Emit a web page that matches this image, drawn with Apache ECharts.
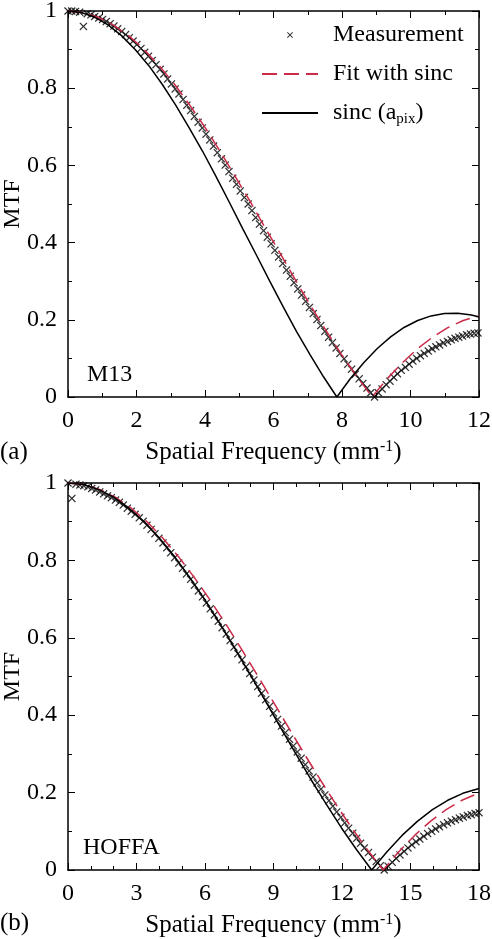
<!DOCTYPE html>
<html><head><meta charset="utf-8">
<script src="https://cdn.jsdelivr.net/npm/echarts@6/dist/echarts.min.js"></script>
<style>html,body{margin:0;padding:0;background:#fff}#c{width:492px;height:939px}</style>
</head><body><div id="c"></div>
<script>
// ---------- Panel (a) M13 ----------
const topMeasX = [0,0.11,0.22,0.34,0.45,0.56,0.67,0.78,0.90,1.01,1.12,1.23,1.34,1.45,1.57,1.68,1.79,1.90,2.01,2.13,2.24,2.35,2.46,2.57,2.69,2.80,2.91,3.02,3.13,3.24,3.36,3.47,3.58,3.69,3.80,3.92,4.03,4.14,4.25,4.36,4.48,4.59,4.70,4.81,4.92,5.03,5.15,5.26,5.37,5.48,5.59,5.71,5.82,5.93,6.04,6.15,6.27,6.38,6.49,6.60,6.71,6.82,6.94,7.05,7.16,7.27,7.38,7.50,7.61,7.72,7.83,7.94,8.06,8.17,8.28,8.39,8.50,8.61,8.73,8.84,8.95,9.06,9.17,9.29,9.40,9.51,9.62,9.73,9.85,9.96,10.07,10.18,10.29,10.40,10.52,10.63,10.74,10.85,10.96,11.08,11.19,11.30,11.41,11.52,11.64,11.75,11.86,11.97];
const topMeasY = [1.000,1.000,0.999,0.997,0.960,0.993,0.990,0.986,0.982,0.978,
0.973,0.967,0.961,0.954,0.947,0.939,0.931,0.922,0.913,0.903,
0.893,0.883,0.872,0.861,0.849,0.837,0.824,0.811,0.798,0.785,
0.771,0.756,0.742,0.727,0.712,0.697,0.681,0.666,0.650,0.633,
0.617,0.601,0.584,0.567,0.551,0.534,0.517,0.500,0.483,0.465,
0.448,0.431,0.414,0.397,0.380,0.363,0.346,0.329,0.313,0.296,
0.280,0.264,0.248,0.232,0.216,0.201,0.185,0.170,0.155,0.141,
0.127,0.113,0.099,0.085,0.072,0.059,0.047,0.035,0.023,0.011,
0.000,0.011,0.021,0.032,0.041,0.051,0.060,0.069,0.077,0.085,
0.093,0.100,0.107,0.113,0.119,0.125,0.130,0.135,0.140,0.144,
0.148,0.152,0.155,0.158,0.161,0.163,0.165,0.166];
const topFitX = [0,0.44,0.89,1.33,1.78,2.22,2.66,3.11,3.55,4.00,4.44,4.88,5.33,5.77,6.22,6.66,7.10,7.55,7.99,8.44,8.88,9.32,9.77,10.21,10.66,11.10,11.54,12];
const topFitY = [1,0.9959,0.9836,0.9634,0.9355,0.9003,0.8584,0.8103,0.7568,0.6987,0.6366,0.5716,0.5046,0.4363,0.3679,0.3001,0.2339,0.1700,0.1093,0.0524,0,0.0474,0.0894,0.1257,0.1559,0.1801,0.1981,0.2102];
const topSincX = [0,0.39,0.79,1.18,1.57,1.96,2.36,2.75,3.14,3.53,3.93,4.32,4.71,5.10,5.50,5.89,6.28,6.67,7.07,7.46,7.85,8.24,8.64,9.03,9.42,9.81,10.21,10.60,10.99,11.38,11.78,12];
const topSincY = [1,0.9959,0.9836,0.9634,0.9355,0.9003,0.8584,0.8103,0.7568,0.6987,0.6366,0.5716,0.5046,0.4363,0.3679,0.3001,0.2339,0.1700,0.1093,0.0524,0,0.0474,0.0894,0.1257,0.1559,0.1801,0.1981,0.2101,0.2162,0.2168,0.2122,0.2071];

// ---------- Panel (b) HOFFA ----------
const botMeasX = [0,0.17,0.35,0.52,0.69,0.87,1.04,1.21,1.39,1.56,1.73,1.90,2.08,2.25,2.42,2.60,2.77,2.94,3.12,3.29,3.46,3.64,3.81,3.98,4.16,4.33,4.50,4.67,4.85,5.02,5.19,5.37,5.54,5.71,5.89,6.06,6.23,6.41,6.58,6.75,6.93,7.10,7.27,7.44,7.62,7.79,7.96,8.14,8.31,8.48,8.66,8.83,9.00,9.18,9.35,9.52,9.70,9.87,10.04,10.21,10.39,10.56,10.73,10.91,11.08,11.25,11.43,11.60,11.77,11.95,12.12,12.29,12.47,12.64,12.81,12.98,13.16,13.33,13.50,13.68,13.85,14.02,14.20,14.37,14.54,14.72,14.89,15.06,15.24,15.41,15.58,15.75,15.93,16.10,16.27,16.45,16.62,16.79,16.97,17.14,17.31,17.49,17.66,17.83,18.00];
const botMeasY = [1.000,0.960,0.997,0.995,0.993,0.990,0.986,0.982,0.977,0.972,
0.967,0.962,0.956,0.950,0.943,0.935,0.927,0.919,0.910,0.901,
0.891,0.880,0.869,0.857,0.845,0.833,0.820,0.807,0.793,0.780,
0.765,0.751,0.736,0.721,0.706,0.690,0.675,0.659,0.643,0.626,
0.610,0.593,0.576,0.559,0.543,0.525,0.508,0.491,0.474,0.457,
0.440,0.423,0.406,0.389,0.372,0.355,0.338,0.321,0.305,0.289,
0.272,0.256,0.240,0.225,0.209,0.194,0.179,0.165,0.150,0.136,
0.122,0.108,0.095,0.082,0.069,0.057,0.045,0.033,0.022,0.011,
0.000,0.010,0.020,0.030,0.039,0.048,0.057,0.065,0.073,0.080,
0.087,0.094,0.100,0.106,0.112,0.117,0.122,0.126,0.130,0.134,
0.137,0.141,0.143,0.146,0.148];
const botFitX = [0,0.69,1.38,2.07,2.76,3.45,4.14,4.83,5.52,6.21,6.90,7.59,8.28,8.97,9.66,10.35,11.04,11.73,12.42,13.11,13.80,14.49,15.18,15.87,16.56,17.25,18];
const botFitY = [1,0.9959,0.9836,0.9634,0.9355,0.9003,0.8584,0.8103,0.7568,0.6987,0.6366,0.5716,0.5046,0.4363,0.3679,0.3001,0.2339,0.1700,0.1093,0.0524,0,0.0474,0.0894,0.1257,0.1559,0.1801,0.1991];
const botSincX = [0,0.67,1.33,2.00,2.66,3.33,3.99,4.66,5.32,5.99,6.65,7.32,7.98,8.65,9.31,9.98,10.64,11.31,11.97,12.64,13.30,13.97,14.63,15.30,15.96,16.63,17.29,18];
const botSincY = [1,0.9959,0.9836,0.9634,0.9355,0.9003,0.8584,0.8103,0.7568,0.6987,0.6366,0.5716,0.5046,0.4363,0.3679,0.3001,0.2339,0.1700,0.1093,0.0524,0,0.0474,0.0894,0.1257,0.1559,0.1801,0.1981,0.2105];

// axis settings
const topXMax = 12, topXInterval = 2;
const botXMax = 18, botXInterval = 3;
const yInterval = 0.2;
const legendNames = ['Measurement', 'Fit with sinc', 'sinc (a_pix)'];
const panelLabels = ['(a)', '(b)'];
const detectorNames = ['M13', 'HOFFA'];

const zip = (xs, ys) => xs.map((x, i) => [x, ys[i]]);
const FONT = '"Liberation Serif", "Times New Roman", serif';
const RED = '#cc2b48';
const CROSS = 'path://M0,1.1L1.1,0L5,3.9L8.9,0L10,1.1L6.1,5L10,8.9L8.9,10L5,6.1L1.1,10L0,8.9L3.9,5Z';

function xAx(grid, max, interval, pos, minorSplit) {
  const isMain = pos === 'bottom';
  return {
    gridIndex: grid, type: 'value', min: 0, max: max, interval: interval, position: pos,
    axisLine: {show: true, onZero: false, lineStyle: {color: '#000', width: 1.5}},
    axisTick: {show: true, inside: true, length: 7, lineStyle: {color: '#000', width: 1}},
    minorTick: {show: true, splitNumber: minorSplit, length: 4, lineStyle: {color: '#000', width: 1}},
    splitLine: {show: false},
    axisLabel: {show: isMain, inside: false, fontFamily: FONT, fontSize: 24, color: '#000', margin: 12},
    name: isMain ? 'Spatial Frequency (mm{sup|-1})' : '',
    nameLocation: 'middle', nameGap: 42, nameMoveOverlap: false,
    nameTextStyle: {fontFamily: FONT, fontSize: 25, color: '#000',
      rich: {sup: {fontFamily: FONT, fontSize: 16, padding: [0, 0, 10, 0]}}}
  };
}
function yAx(grid, pos) {
  const isMain = pos === 'left';
  return {
    gridIndex: grid, type: 'value', min: 0, max: 1, interval: yInterval, position: pos,
    axisLine: {show: true, onZero: false, lineStyle: {color: '#000', width: 1.5}},
    axisTick: {show: true, inside: true, length: 7, lineStyle: {color: '#000', width: 1}},
    minorTick: {show: true, splitNumber: 2, length: 4, lineStyle: {color: '#000', width: 1}},
    splitLine: {show: false},
    axisLabel: {show: isMain, inside: false, fontFamily: FONT, fontSize: 24, color: '#000', margin: 11},
    name: isMain ? 'MTF' : '',
    nameLocation: 'middle', nameGap: 43, nameMoveOverlap: false,
    nameTextStyle: {fontFamily: FONT, fontSize: 24, color: '#000'}
  };
}

function measSeries(data, xi, yi) {
  return {type: 'scatter', name: legendNames[0], xAxisIndex: xi, yAxisIndex: yi, data: data,
    symbol: CROSS, symbolSize: 8, symbolKeepAspect: true,
    itemStyle: {color: '#000'}, z: 3};
}
function fitSeries(data, xi, yi) {
  return {type: 'line', name: legendNames[1], xAxisIndex: xi, yAxisIndex: yi, data: data,
    symbol: 'none', showSymbol: false, clip: true,
    lineStyle: {color: RED, width: 1.5, type: [15, 7]}, itemStyle: {color: RED}, z: 4};
}
function sincSeries(data, xi, yi) {
  return {type: 'line', name: legendNames[2], xAxisIndex: xi, yAxisIndex: yi, data: data,
    symbol: 'none', showSymbol: false, clip: true,
    lineStyle: {color: '#000', width: 1.5}, itemStyle: {color: '#000'}, z: 4};
}

const chart = echarts.init(document.getElementById('c'), null, {renderer: 'canvas'});
chart.setOption({
  animation: false,
  backgroundColor: '#fff',
  grid: [
    {left: 68, top: 11, width: 411, height: 386, outerBoundsMode: 'none'},
    {left: 68, top: 483, width: 411, height: 387, outerBoundsMode: 'none'}
  ],
  xAxis: [
    xAx(0, topXMax, topXInterval, 'bottom', 2),
    xAx(1, botXMax, botXInterval, 'bottom', 3),
    xAx(0, topXMax, topXInterval, 'top', 2),
    xAx(1, botXMax, botXInterval, 'top', 3)
  ],
  yAxis: [yAx(0, 'left'), yAx(1, 'left'), yAx(0, 'right'), yAx(1, 'right')],
  legend: {
    orient: 'vertical', left: 261, top: 15.5, padding: 0,
    itemWidth: 56, itemHeight: 6, itemGap: 0,
    data: [
      {name: legendNames[0]},
      {name: legendNames[1], itemStyle: {opacity: 0}},
      {name: legendNames[2], itemStyle: {opacity: 0}}
    ],
    formatter: n => n === 'sinc (a_pix)' ? 'sinc (a{sub|pix})' : n,
    textStyle: {fontFamily: FONT, fontSize: 24, color: '#000', lineHeight: 39, padding: [0, 0, 0, 10],
      rich: {sub: {fontFamily: FONT, fontSize: 15, lineHeight: 20, padding: [12, 0, 0, 0]}}}
  },
  graphic: [
    {type: 'text', left: 0, top: 440, style: {text: panelLabels[0], font: '25px ' + FONT, fill: '#000'}},
    {type: 'text', left: 0, top: 911, style: {text: panelLabels[1], font: '25px ' + FONT, fill: '#000'}},
    {type: 'text', left: 87, top: 363, style: {text: detectorNames[0], font: '24px ' + FONT, fill: '#000'}},
    {type: 'text', left: 83, top: 836, style: {text: detectorNames[1], font: '24px ' + FONT, fill: '#000'}}
  ],
  series: [
    measSeries(zip(topMeasX, topMeasY), 0, 0),
    fitSeries(zip(topFitX, topFitY), 0, 0),
    sincSeries(zip(topSincX, topSincY), 0, 0),
    measSeries(zip(botMeasX, botMeasY), 1, 1),
    fitSeries(zip(botFitX, botFitY), 1, 1),
    sincSeries(zip(botSincX, botSincY), 1, 1)
  ]
});
</script></body></html>
